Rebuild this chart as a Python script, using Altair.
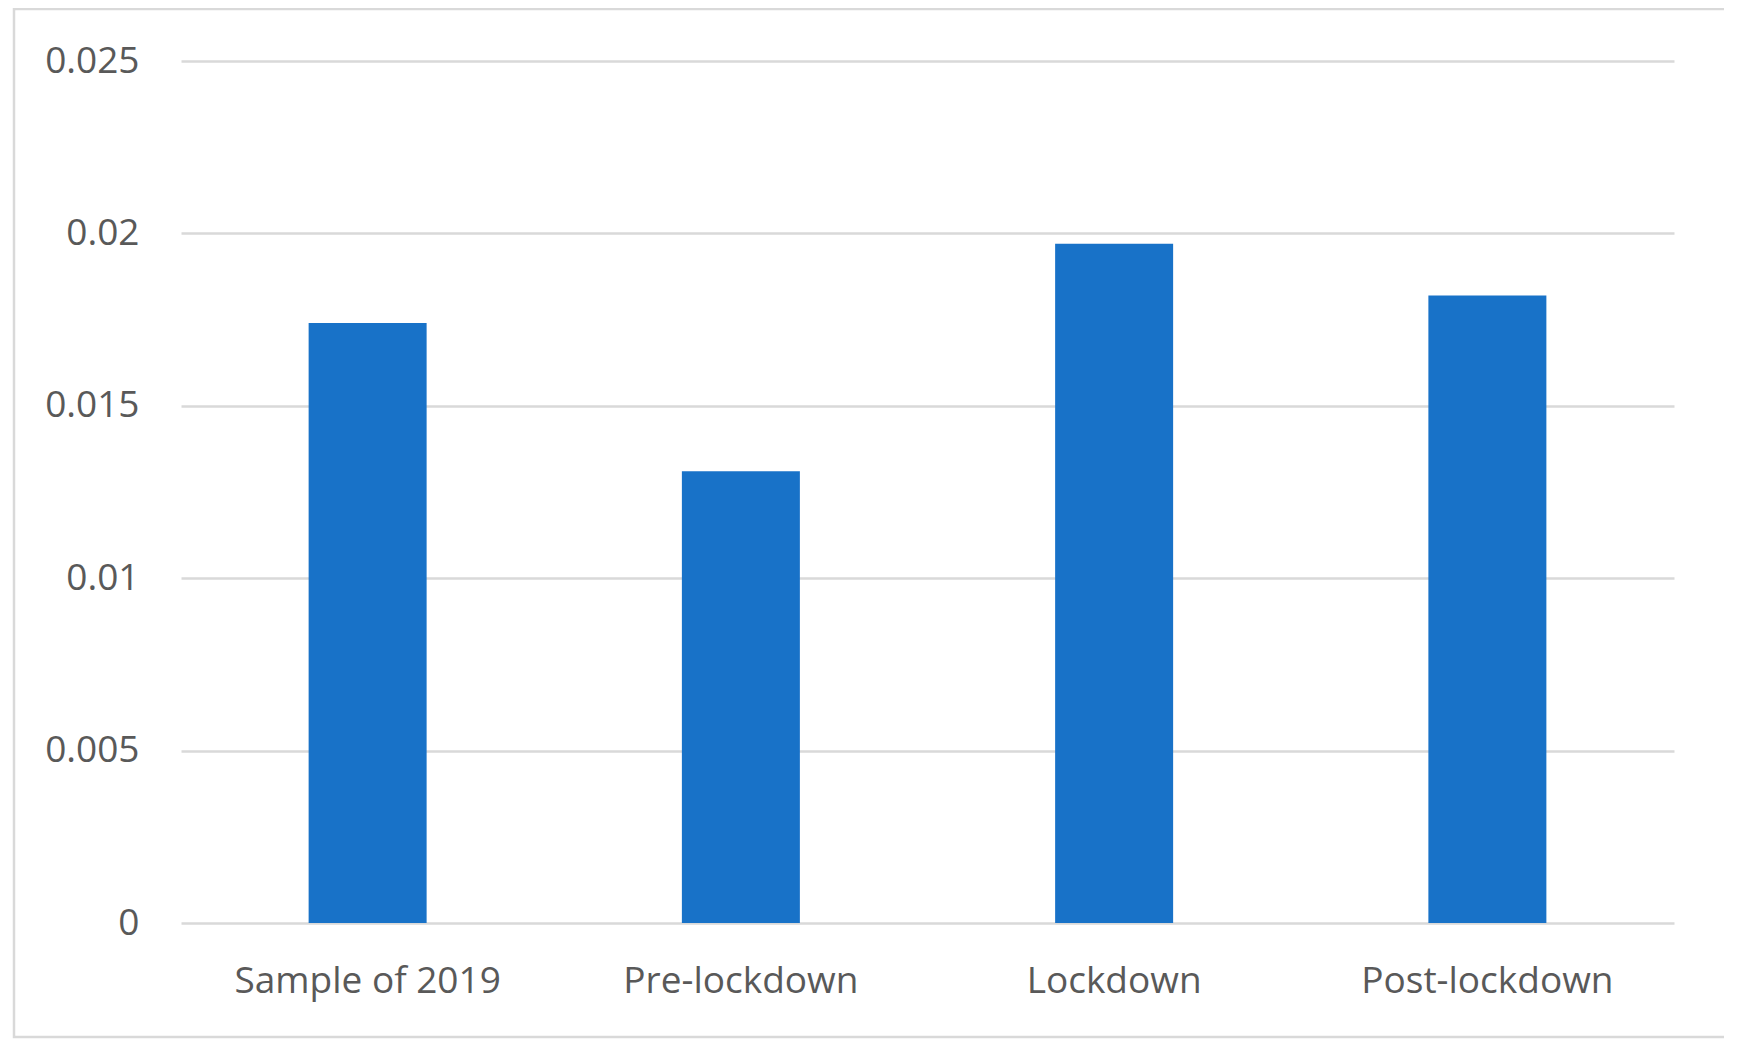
import altair as alt
import pandas as pd

categories = ["Sample of 2019", "Pre-lockdown", "Lockdown", "Post-lockdown"]
values = [0.0174, 0.0131, 0.0197, 0.0182]
y_ticks = [0, 0.005, 0.01, 0.015, 0.02, 0.025]

df = pd.DataFrame({"category": categories, "value": values})

W, H = 1493, 862
FONT = "Open Sans"
TXT = "#595959"
GRID = "#D9D9D9"

bars = alt.Chart(df).mark_bar(color="#1872C8", size=118).encode(
    x=alt.X("category:N", sort=categories, title=None,
            scale=alt.Scale(paddingInner=0, paddingOuter=0),
            axis=alt.Axis(labelAngle=0, labelFont=FONT, labelFontSize=37,
                          labelColor=TXT, labelPadding=40, labelLimit=500,
                          domain=False, ticks=False, grid=False)),
    y=alt.Y("value:Q", title=None,
            scale=alt.Scale(domain=[0, 0.025], nice=False),
            axis=alt.Axis(values=y_ticks, format="~g", labelFont=FONT,
                          labelFontSize=37, labelColor=TXT, labelPadding=42,
                          domain=False, ticks=False, grid=True,
                          gridColor=GRID, gridWidth=2.5)),
)

border = alt.Chart(pd.DataFrame({"a": [0]})).mark_rect(
    fill=None, stroke=GRID, strokeWidth=2.5, clip=False
).encode(
    x=alt.value(-167), x2=alt.value(1547),
    y=alt.value(-52), y2=alt.value(976),
)

chart = alt.layer(bars, border).properties(
    width=W, height=H,
    padding={"left": 173, "top": 53, "right": 50, "bottom": 120},
    autosize=alt.AutoSizeParams(type="none"),
    background="white",
).configure_view(stroke=None)

chart.save("out.html", embed_options={"renderer": "svg", "actions": False})
